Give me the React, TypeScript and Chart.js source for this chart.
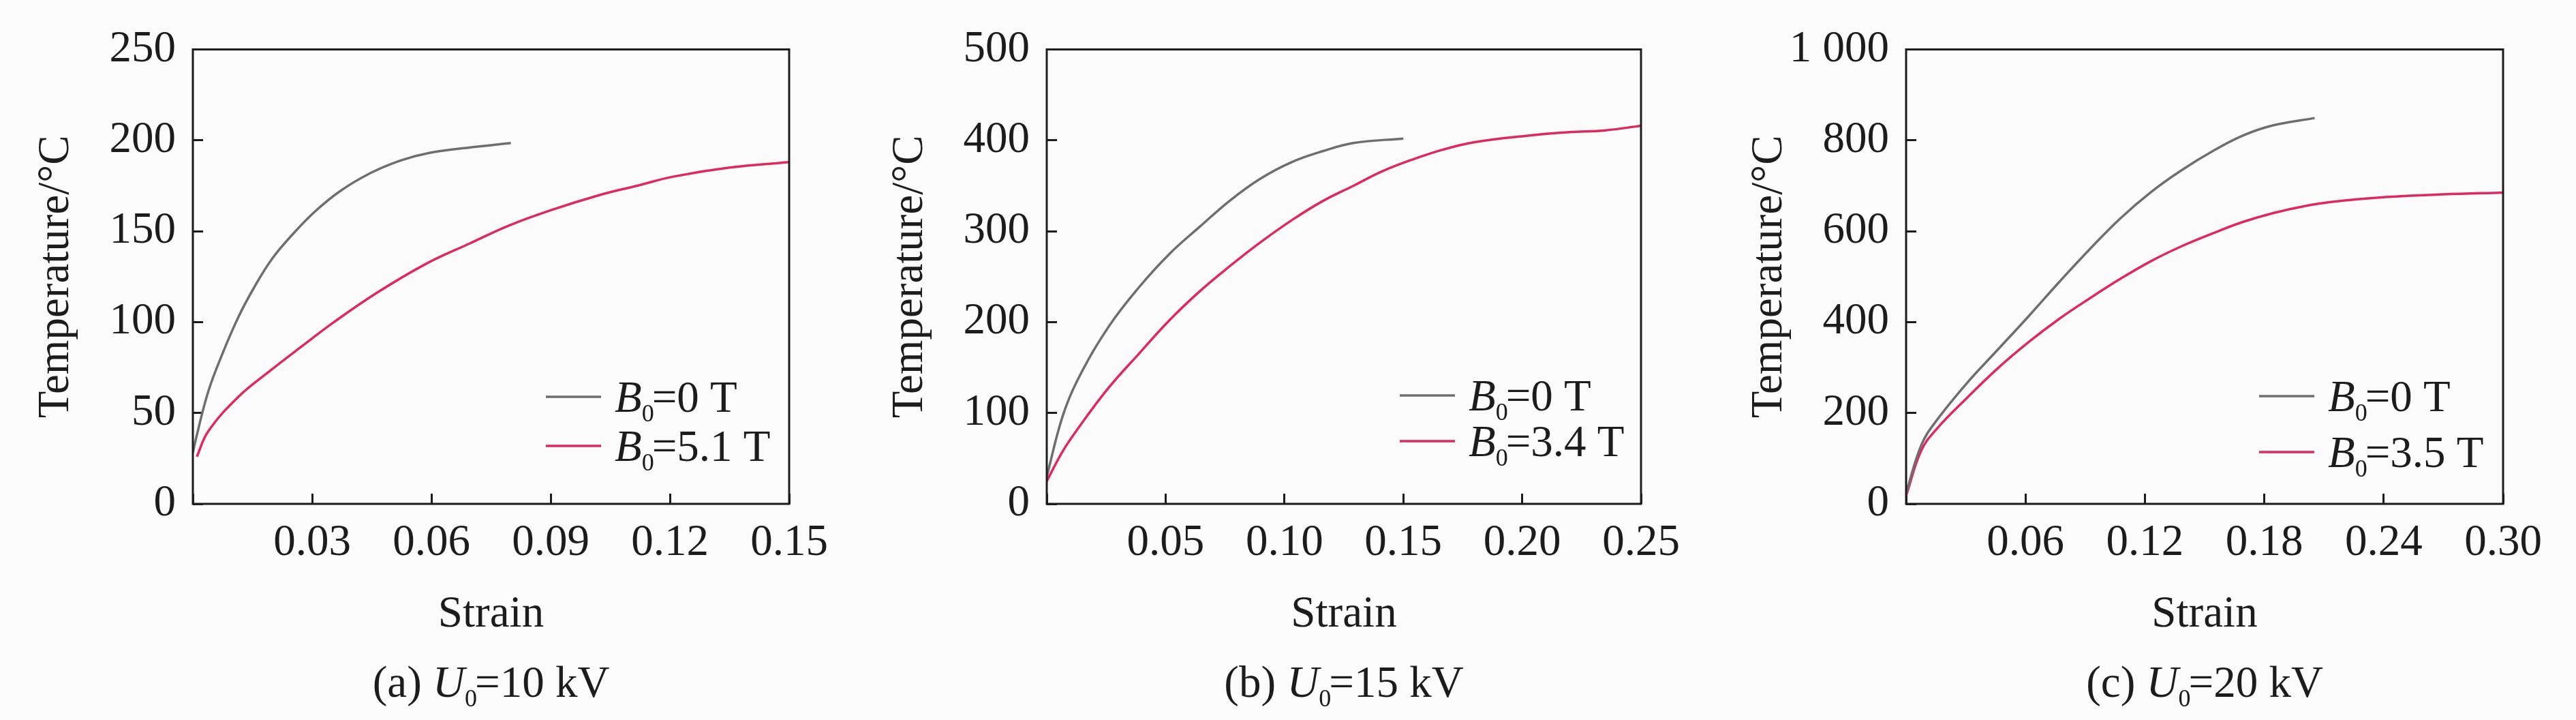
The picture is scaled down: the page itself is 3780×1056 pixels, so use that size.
import { useEffect, useRef } from "react"
import { Chart, registerables } from "chart.js"

Chart.register(...registerables)

// (a) U0 = 10 kV
const strainA0 = [0, 0.0008, 0.0039, 0.0077, 0.0115, 0.0154, 0.02, 0.0254, 0.0308, 0.037, 0.0447, 0.0524, 0.0593, 0.0694, 0.08]
const tempA0 = [28, 36, 62, 84, 103, 119, 135, 149, 161, 172, 182, 189, 193, 196, 198.5]
const strainA1 = [0.001, 0.0039, 0.0115, 0.0193, 0.027, 0.0355, 0.0462, 0.0586, 0.0694, 0.0794, 0.09, 0.1025, 0.1117, 0.1208, 0.135, 0.15]
const tempA1 = [26, 40, 59, 73, 86, 100, 116, 132, 143, 153, 161.5, 170, 175, 180, 185, 188]

// (b) U0 = 15 kV
const strainB0 = [0, 0.0065, 0.0129, 0.0258, 0.0387, 0.0516, 0.0644, 0.0772, 0.09, 0.103, 0.116, 0.129, 0.15]
const tempB0 = [30, 95, 136, 194, 238, 275, 305, 334, 358, 376, 388, 397, 402]
const strainB1 = [0, 0.0065, 0.0129, 0.0258, 0.0387, 0.0516, 0.0644, 0.0772, 0.09, 0.103, 0.116, 0.129, 0.1412, 0.154, 0.167, 0.18, 0.2018, 0.22, 0.235, 0.25]
const tempB1 = [25, 57, 82, 127, 165, 202, 234, 262, 288, 312, 333, 350, 366, 379, 390, 398, 405, 409, 411, 416]

// (c) U0 = 20 kV
const strainC0 = [0, 0.0077, 0.0154, 0.0308, 0.046, 0.0616, 0.0769, 0.0922, 0.1076, 0.123, 0.138, 0.154, 0.169, 0.1845, 0.2053]
const tempC0 = [24, 130, 184, 267, 339, 413, 488, 560, 628, 686, 733, 776, 810, 833, 849]
const strainC1 = [0, 0.0077, 0.0154, 0.0308, 0.046, 0.0616, 0.0769, 0.0922, 0.1076, 0.123, 0.138, 0.154, 0.169, 0.1845, 0.2, 0.215, 0.241, 0.27, 0.3]
const tempC1 = [18, 118, 165, 234, 298, 356, 407, 452, 495, 534, 566, 595, 620, 640, 655, 665, 675, 681, 685]

const xTicksA = [0, 0.03, 0.06, 0.09, 0.12, 0.15]
const xTicksB = [0, 0.05, 0.1, 0.15, 0.2, 0.25]
const xTicksC = [0, 0.06, 0.12, 0.18, 0.24, 0.3]
const yTicksA = [0, 50, 100, 150, 200, 250]
const yTicksB = [0, 100, 200, 300, 400, 500]
const yTicksC = [0, 200, 400, 600, 800, 1000]

const panelLetters = ["a", "b", "c"]
const voltages = ["10 kV", "15 kV", "20 kV"]
const fieldLabels = [
  ["0 T", "5.1 T"],
  ["0 T", "3.4 T"],
  ["0 T", "3.5 T"],
]

const FONT = '"Liberation Serif", "Times New Roman", serif'
const INK = "#1c1c1c"
const GRAY = "#6e6e6e"
const PINK = "#e0285f"
const W = 1260
const H = 1056

Chart.defaults.font.family = FONT

type Part = { t: string; italic?: boolean; sub?: boolean }

function zip(xs: number[], ys: number[]) {
  return xs.map((x, i) => ({ x, y: ys[i] }))
}

function drawParts(ctx: CanvasRenderingContext2D, parts: Part[], x: number, y: number, size: number, center: boolean) {
  const subSize = Math.round(size * 0.55)
  const fontOf = (p: Part) => `${p.italic ? "italic " : ""}${p.sub ? subSize : size}px ${FONT}`
  const widths = parts.map(p => {
    ctx.font = fontOf(p)
    return ctx.measureText(p.t).width + (p.sub ? -3 : 0)
  })
  let cx = center ? x - widths.reduce((a, b) => a + b, 0) / 2 : x
  ctx.textAlign = "left"
  ctx.textBaseline = "alphabetic"
  parts.forEach((p, i) => {
    ctx.font = fontOf(p)
    ctx.fillText(p.t, cx, p.sub ? y + 14 : y)
    cx += widths[i]
  })
}

interface PanelProps {
  index: number
  series: { x: number; y: number }[][]
  xTicks: number[]
  yTicks: number[]
  left: number
  right: number
  legendRows: number[]
}

function Panel({ index, series, xTicks, yTicks, left, right, legendRows }: PanelProps) {
  const chartRef = useRef<HTMLCanvasElement>(null)
  const chartInstance = useRef<Chart | null>(null)

  useEffect(() => {
    if (!chartRef.current) return
    if (chartInstance.current) chartInstance.current.destroy()
    const ctx = chartRef.current.getContext("2d")
    if (!ctx) return

    const colors = [GRAY, PINK]
    const tickFont = { family: FONT, size: 65, lineHeight: 1 }

    const decor = {
      id: "decor",
      afterDraw(chart: Chart) {
        const c = chart.ctx
        const a = chart.chartArea
        c.save()
        c.strokeStyle = INK
        c.lineWidth = 3
        c.strokeRect(a.left, a.top, a.right - a.left, a.bottom - a.top)

        c.fillStyle = INK
        c.font = `65px ${FONT}`
        c.textAlign = "center"
        c.textBaseline = "alphabetic"
        c.fillText("Strain", (a.left + a.right) / 2, 919)

        c.save()
        c.translate(a.left - 183, (a.top + a.bottom) / 2)
        c.rotate(-Math.PI / 2)
        c.fillText("Temperature/°C", 0, 0)
        c.restore()

        // legend
        fieldLabels[index].forEach((lab, i) => {
          const ly = legendRows[i]
          c.strokeStyle = colors[i]
          c.lineWidth = 3.5
          c.beginPath()
          c.moveTo(a.left + 518, ly)
          c.lineTo(a.left + 599, ly)
          c.stroke()
          c.fillStyle = INK
          drawParts(c, [{ t: "B", italic: true }, { t: "0", sub: true }, { t: "=" + lab }], a.left + 619, ly + 22, 65, false)
        })

        drawParts(
          c,
          [{ t: `(${panelLetters[index]}) ` }, { t: "U", italic: true }, { t: "0", sub: true }, { t: "=" + voltages[index] }],
          (a.left + a.right) / 2,
          1022,
          65,
          true
        )
        c.restore()
      },
    }

    chartInstance.current = new Chart(ctx, {
      type: "line",
      data: {
        datasets: series.map((data, i) => ({
          label: "B0=" + fieldLabels[index][i],
          data,
          borderColor: colors[i],
          borderWidth: 3.5,
          pointRadius: 0,
          tension: 0.4,
        })),
      },
      options: {
        animation: false,
        responsive: false,
        layout: { padding: { left: 0, right: W - right, top: 35, bottom: 0 } },
        plugins: { legend: { display: false }, tooltip: { enabled: false } },
        scales: {
          x: {
            type: "linear",
            min: 0,
            max: xTicks[xTicks.length - 1],
            afterBuildTicks: (s: any) => {
              s.ticks = xTicks.map(v => ({ value: v }))
            },
            afterFit: (s: any) => {
              s.height = H - 739
            },
            border: { display: false },
            grid: { drawOnChartArea: false, tickLength: -15, color: INK, lineWidth: 3 },
            ticks: {
              padding: 40,
              color: INK,
              font: tickFont,
              maxRotation: 0,
              autoSkip: false,
              callback: (v: any) => (Number(v) === 0 ? "" : Number(v).toFixed(2)),
            },
          },
          y: {
            type: "linear",
            min: 0,
            max: yTicks[yTicks.length - 1],
            afterBuildTicks: (s: any) => {
              s.ticks = yTicks.map(v => ({ value: v }))
            },
            afterFit: (s: any) => {
              s.width = left
            },
            border: { display: false },
            grid: { drawOnChartArea: false, tickLength: -15, color: INK, lineWidth: 3 },
            ticks: {
              padding: 40,
              color: INK,
              font: tickFont,
              autoSkip: false,
              callback: (v: any) => (Number(v) >= 1000 ? "1 000" : String(v)),
            },
          },
        },
      },
      plugins: [decor],
    })

    return () => {
      if (chartInstance.current) {
        chartInstance.current.destroy()
        chartInstance.current = null
      }
    }
  }, [index, series, xTicks, yTicks, left, right, legendRows])

  return (
    <canvas
      ref={chartRef}
      width={W}
      height={H}
      style={{ position: "absolute", left: index * W, top: 0, width: W, height: H }}
    />
  )
}

const seriesA = [zip(strainA0, tempA0), zip(strainA1, tempA1)]
const seriesB = [zip(strainB0, tempB0), zip(strainB1, tempB1)]
const seriesC = [zip(strainC0, tempC0), zip(strainC1, tempC1)]
const rowsA = [582, 654]
const rowsB = [580, 647]
const rowsC = [581, 663]

export default function App() {
  return (
    <div style={{ position: "fixed", left: 0, top: 0, width: 3 * W, height: H, background: "#fbfbfb" }}>
      <Panel index={0} series={seriesA} xTicks={xTicksA} yTicks={yTicksA} left={283} right={1158} legendRows={rowsA} />
      <Panel index={1} series={seriesB} xTicks={xTicksB} yTicks={yTicksB} left={276} right={1148} legendRows={rowsB} />
      <Panel index={2} series={seriesC} xTicks={xTicksC} yTicks={yTicksC} left={277} right={1153} legendRows={rowsC} />
    </div>
  )
}
